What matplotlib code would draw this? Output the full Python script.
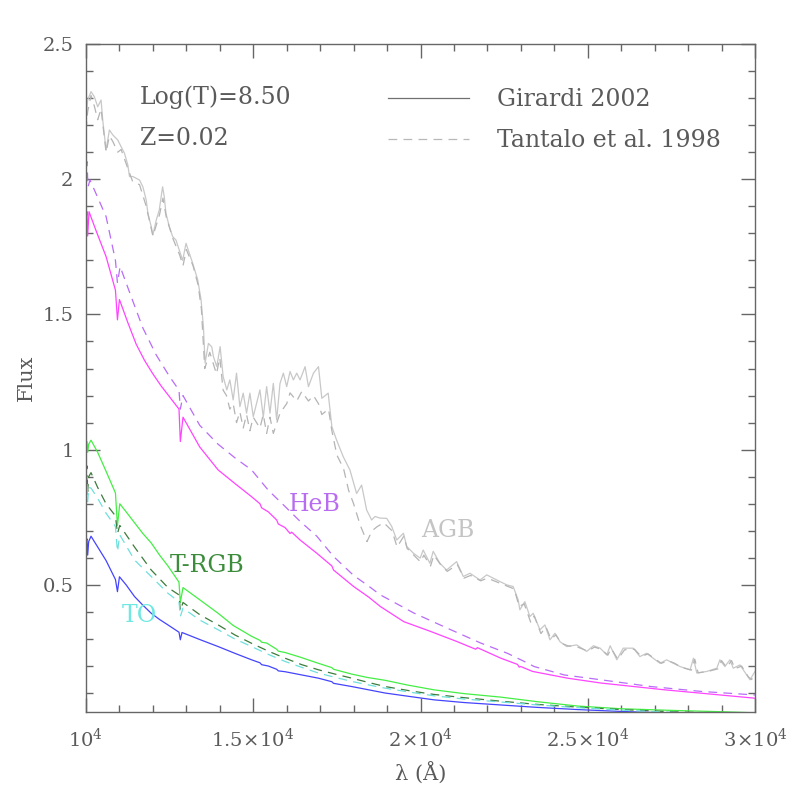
import matplotlib.pyplot as plt
from matplotlib.lines import Line2D
from matplotlib.ticker import MultipleLocator

plt.rcParams['font.family'] = ['DejaVu Serif']
plt.rcParams['mathtext.fontset'] = 'dejavuserif'

# spectra: (wavelength [A], flux)
agb_girardi = [
    (10000, 2.22), (10050, 2.293), (10150, 2.324), (10250, 2.305), (10350, 2.268),
    (10450, 2.293), (10500, 2.219), (10600, 2.108), (10700, 2.182), (10800, 2.164),
    (10950, 2.145), (11050, 2.12), (11150, 2.096), (11250, 2.053), (11300, 2.01),
    (11400, 2.01), (11600, 1.997), (11700, 1.972), (11800, 1.923), (11850, 1.874),
    (11950, 1.825), (12000, 1.794), (12100, 1.849), (12190, 1.886), (12290, 1.972),
    (12340, 1.935), (12390, 1.874), (12490, 1.825), (12590, 1.788), (12690, 1.775),
    (12790, 1.738), (12890, 1.70), (12990, 1.763), (13090, 1.726), (13190, 1.689),
    (13340, 1.628), (13440, 1.554), (13510, 1.455), (13560, 1.32), (13660, 1.393),
    (13760, 1.38), (13810, 1.344), (13910, 1.307), (14010, 1.381), (14100, 1.27),
    (14210, 1.221), (14300, 1.258), (14400, 1.184), (14500, 1.283), (14600, 1.159),
    (14700, 1.209), (14800, 1.135), (14900, 1.209), (15000, 1.122), (15200, 1.221),
    (15300, 1.12), (15400, 1.233), (15500, 1.135), (15600, 1.245), (15700, 1.11),
    (15800, 1.245), (15900, 1.283), (16000, 1.233), (16100, 1.289), (16200, 1.258),
    (16300, 1.283), (16400, 1.258), (16550, 1.307), (16650, 1.233), (16800, 1.283),
    (16950, 1.307), (17050, 1.19), (17240, 1.209), (17350, 1.085), (17490, 1.036),
    (17690, 0.974), (17890, 0.925), (18090, 0.838), (18240, 0.869), (18390, 0.777),
    (18540, 0.74), (18640, 0.753), (18790, 0.747), (18990, 0.746), (19140, 0.716),
    (19290, 0.666), (19490, 0.691), (19590, 0.642), (19790, 0.617), (19990, 0.599),
    (20080, 0.629), (20280, 0.58), (20380, 0.624), (20580, 0.58), (20780, 0.555),
    (21080, 0.586), (21280, 0.531), (21480, 0.543), (21780, 0.518), (21980, 0.537),
    (22380, 0.512), (22580, 0.50), (22770, 0.494), (22920, 0.445), (22970, 0.408),
    (23120, 0.438), (23270, 0.383), (23370, 0.395), (23570, 0.334), (23720, 0.352),
    (23870, 0.297), (24020, 0.321), (24170, 0.29), (24370, 0.272), (24670, 0.278),
    (24970, 0.254), (25170, 0.275), (25370, 0.266), (25570, 0.241), (25670, 0.275),
    (25870, 0.223), (26060, 0.266), (26360, 0.266), (26560, 0.235), (26760, 0.247),
    (27160, 0.21), (27360, 0.223), (27560, 0.21), (27760, 0.198), (28060, 0.186),
    (28160, 0.229), (28260, 0.174), (28560, 0.18), (28860, 0.192), (28950, 0.223),
    (29100, 0.198), (29250, 0.223), (29350, 0.192), (29550, 0.204), (29750, 0.167),
    (29850, 0.149), (30000, 0.18),
]
agb_tantalo = [
    (10000, 2.18), (10050, 2.25), (10150, 2.31), (10250, 2.27), (10350, 2.22),
    (10450, 2.26), (10600, 2.10), (10700, 2.16), (10800, 2.14), (10950, 2.10),
    (11050, 2.11), (11250, 2.04), (11400, 1.99), (11600, 1.98), (11800, 1.90),
    (12000, 1.79), (12100, 1.83), (12200, 1.87), (12300, 1.93), (12400, 1.86),
    (12600, 1.78), (12800, 1.72), (12900, 1.68), (13000, 1.74), (13200, 1.68),
    (13350, 1.61), (13450, 1.52), (13550, 1.30), (13700, 1.36), (13900, 1.28),
    (14000, 1.34), (14100, 1.22), (14200, 1.20), (14300, 1.15), (14400, 1.17),
    (14500, 1.10), (14600, 1.14), (14700, 1.08), (14800, 1.13), (14900, 1.07),
    (15000, 1.12), (15200, 1.08), (15300, 1.13), (15400, 1.06), (15500, 1.12),
    (15600, 1.06), (15800, 1.135), (16000, 1.17), (16100, 1.21), (16300, 1.18),
    (16450, 1.215), (16650, 1.18), (16800, 1.20), (16950, 1.17), (17050, 1.13),
    (17250, 1.15), (17350, 1.07), (17500, 0.98), (17700, 0.93), (17850, 0.85),
    (18000, 0.80), (18200, 0.72), (18400, 0.66), (18550, 0.70), (18700, 0.715),
    (18900, 0.73), (19150, 0.70), (19300, 0.64), (19500, 0.68), (19600, 0.635),
    (19800, 0.61), (20000, 0.585), (20100, 0.61), (20300, 0.57), (20400, 0.61),
    (20600, 0.575), (20800, 0.55), (21100, 0.575), (21300, 0.525), (21500, 0.535),
    (21800, 0.515), (22000, 0.525), (22400, 0.505), (22600, 0.495), (22800, 0.485),
    (22950, 0.42), (23100, 0.43), (23300, 0.36), (23400, 0.385), (23600, 0.32),
    (23750, 0.345), (23900, 0.30), (24050, 0.315), (24200, 0.285), (24400, 0.275),
    (24700, 0.27), (25000, 0.255), (25200, 0.27), (25400, 0.262), (25600, 0.24),
    (25700, 0.265), (25900, 0.225), (26100, 0.26), (26400, 0.262), (26600, 0.235),
    (26800, 0.245), (27200, 0.21), (27400, 0.22), (27600, 0.21), (27800, 0.195),
    (28100, 0.185), (28200, 0.225), (28300, 0.175), (28600, 0.18), (28900, 0.19),
    (29000, 0.22), (29150, 0.195), (29300, 0.22), (29400, 0.19), (29600, 0.20),
    (29800, 0.16), (29900, 0.15), (30000, 0.175),
]
heb_girardi = [
    (10000, 1.85), (10030, 1.88), (10050, 1.79), (10090, 1.88), (10300, 1.81),
    (10600, 1.714), (10880, 1.59), (10940, 1.48), (11000, 1.555), (11250, 1.47),
    (11500, 1.39), (11750, 1.33), (12000, 1.28), (12250, 1.235), (12500, 1.195),
    (12780, 1.15), (12820, 1.03), (12900, 1.12), (13400, 1.01), (13950, 0.925),
    (14450, 0.875), (14950, 0.826), (15200, 0.80), (15250, 0.785), (15450, 0.77),
    (15700, 0.74), (15750, 0.725), (15950, 0.712), (16100, 0.69), (16150, 0.695),
    (16400, 0.666), (16900, 0.617), (17350, 0.57), (17400, 0.555), (18000, 0.494),
    (18450, 0.455), (18800, 0.42), (19500, 0.364), (20300, 0.328), (21100, 0.29),
    (21650, 0.262), (21700, 0.268), (22400, 0.229), (22900, 0.206), (22950, 0.196),
    (23000, 0.198), (23350, 0.18), (24400, 0.155), (25400, 0.137), (27300, 0.112),
    (30000, 0.081),
]
heb_tantalo = [
    (10000, 2.05), (10030, 2.065), (10060, 1.972), (10120, 1.997), (10600, 1.862),
    (10880, 1.70), (10940, 1.616), (11020, 1.677), (11350, 1.566), (11700, 1.45),
    (12100, 1.35), (12500, 1.27), (12780, 1.22), (12820, 1.15), (12900, 1.20),
    (13400, 1.09), (13950, 1.02), (14450, 0.97), (14950, 0.925), (15450, 0.85),
    (15950, 0.79), (16400, 0.735), (16900, 0.68), (17400, 0.605), (18000, 0.535),
    (18400, 0.50), (18800, 0.463), (19800, 0.396), (20800, 0.34), (21800, 0.285),
    (22600, 0.247), (23100, 0.217), (23400, 0.198), (24300, 0.167), (25400, 0.149),
    (26900, 0.124), (28400, 0.106), (30000, 0.093),
]
trgb_girardi = [
    (10000, 1.00), (10030, 1.03), (10050, 0.99), (10080, 1.02), (10150, 1.035),
    (10350, 0.99), (10600, 0.92), (10880, 0.84), (10940, 0.72), (11010, 0.80),
    (11200, 0.77), (11450, 0.73), (11700, 0.69), (11950, 0.655), (12200, 0.61),
    (12450, 0.57), (12780, 0.51), (12820, 0.435), (12900, 0.49), (13400, 0.445),
    (13950, 0.395), (14400, 0.35), (14950, 0.31), (15200, 0.295), (15250, 0.288),
    (15400, 0.285), (15700, 0.262), (15750, 0.255), (15950, 0.25), (16400, 0.233),
    (16950, 0.21), (17350, 0.194), (17400, 0.188), (17950, 0.17), (18400, 0.158),
    (18950, 0.147), (19600, 0.13), (20400, 0.112), (21300, 0.098), (22400, 0.085),
    (23500, 0.068), (24700, 0.052), (26000, 0.042), (27500, 0.036), (29000, 0.031),
    (30000, 0.027),
]
trgb_tantalo = [
    (10000, 0.92), (10030, 0.94), (10050, 0.845), (10080, 0.90), (10150, 0.915),
    (10350, 0.86), (10600, 0.80), (10880, 0.755), (10940, 0.69), (11010, 0.72),
    (11450, 0.64), (11950, 0.555), (12450, 0.49), (12780, 0.463), (12820, 0.405),
    (12900, 0.435), (13400, 0.39), (13950, 0.352), (14450, 0.315), (14950, 0.284),
    (15450, 0.255), (15950, 0.229), (16450, 0.205), (16950, 0.186), (17450, 0.17),
    (17950, 0.155), (18450, 0.139), (18950, 0.124), (19700, 0.108), (20400, 0.095),
    (21300, 0.083), (22400, 0.07), (23500, 0.058), (24700, 0.048), (26000, 0.039),
    (27500, 0.031), (30000, 0.022),
]
to_girardi = [
    (10000, 0.66), (10030, 0.67), (10050, 0.61), (10080, 0.66), (10150, 0.68),
    (10350, 0.64), (10600, 0.59), (10880, 0.52), (10940, 0.475), (11000, 0.53),
    (11200, 0.50), (11450, 0.457), (11700, 0.425), (11950, 0.395), (12200, 0.372),
    (12450, 0.352), (12780, 0.325), (12820, 0.297), (12870, 0.324), (13400, 0.298),
    (13950, 0.272), (14450, 0.247), (14950, 0.223), (15200, 0.212), (15250, 0.205),
    (15450, 0.20), (15700, 0.188), (15750, 0.182), (15950, 0.179), (16450, 0.167),
    (16950, 0.155), (17350, 0.142), (17400, 0.136), (17950, 0.124), (18450, 0.112),
    (18950, 0.100), (19700, 0.087), (20400, 0.075), (21300, 0.065), (22400, 0.056),
    (23500, 0.047), (24700, 0.039), (26000, 0.032), (27500, 0.026), (30000, 0.018),
]
to_tantalo = [
    (10000, 0.88), (10030, 0.90), (10050, 0.808), (10080, 0.86), (10150, 0.858),
    (10350, 0.82), (10600, 0.765), (10880, 0.716), (10940, 0.623), (11010, 0.685),
    (11450, 0.592), (11950, 0.531), (12450, 0.469), (12780, 0.438), (12820, 0.383),
    (12900, 0.414), (13400, 0.37), (13950, 0.334), (14450, 0.30), (14950, 0.272),
    (15450, 0.243), (15950, 0.217), (16450, 0.195), (16950, 0.174), (17450, 0.158),
    (17950, 0.143), (18450, 0.130), (18950, 0.118), (19700, 0.103), (20400, 0.09),
    (21300, 0.078), (22400, 0.067), (23500, 0.056), (24700, 0.046), (26000, 0.037),
    (27500, 0.029), (30000, 0.02),
]

x_ticks = [10000, 15000, 20000, 25000, 30000]
x_ticklabels = [r'$10^{4}$', r'$1.5\!\times\!10^{4}$', r'$2\!\times\!10^{4}$',
                r'$2.5\!\times\!10^{4}$', r'$3\!\times\!10^{4}$']
y_ticks = [0.5, 1, 1.5, 2, 2.5]
y_ticklabels = ['0.5', '1', '1.5', '2', '2.5']

txt = '#5a5a5a'
dash = (0, (7, 5))

fig = plt.figure(figsize=(7.97, 7.97), dpi=100)
ax = fig.add_axes([86 / 797, 85 / 797, 669 / 797, 668 / 797])


def draw(pts, color, ls='-'):
    wl, fl = zip(*pts)
    ax.plot(wl, fl, color=color, lw=0.9, ls=ls)


draw(agb_girardi, '#c8c8c8')
draw(agb_tantalo, '#b4b4b4', dash)
draw(heb_girardi, '#ff44ff')
draw(heb_tantalo, '#b86cf8', dash)
draw(trgb_girardi, '#44ee44')
draw(trgb_tantalo, '#3c7c3c', dash)
draw(to_girardi, '#4444ff')
draw(to_tantalo, '#6ee0dc', dash)

ax.set_xlim(10000, 30000)
ax.set_ylim(0.03, 2.5)
ax.set_xticks(x_ticks)
ax.set_xticklabels(x_ticklabels)
ax.set_yticks(y_ticks)
ax.set_yticklabels(y_ticklabels)
ax.xaxis.set_minor_locator(MultipleLocator(1000))
ax.yaxis.set_minor_locator(MultipleLocator(0.1))
ax.tick_params(which='both', direction='in', top=True, right=True,
               color='#666666', width=1, labelcolor=txt, labelsize=14)
ax.tick_params(which='major', length=10)
ax.tick_params(which='minor', length=5)
ax.tick_params(axis='x', pad=11)
ax.tick_params(axis='y', pad=9)
for sp in ax.spines.values():
    sp.set_color('#666666')
    sp.set_linewidth(1)

ax.set_xlabel('λ (Å)', fontsize=15, color=txt, labelpad=8)
ax.set_ylabel('Flux', fontsize=15, color=txt, labelpad=5)

# labels of the sequences
ax.text(11614, 2.304, 'Log(T)=8.50', fontsize=17, color=txt, va='center')
ax.text(11614, 2.149, 'Z=0.02', fontsize=17, color=txt, va='center')
ax.text(16069, 0.796, 'HeB', fontsize=17, color='#b86cf0', va='center')
ax.text(20015, 0.70, 'AGB', fontsize=17, color='#c4c4c4', va='center')
ax.text(12511, 0.570, 'T-RGB', fontsize=17, color='#3c8c3c', va='center')
ax.text(11076, 0.385, 'TO', fontsize=17, color='#6ee8e0', va='center')

handles = [Line2D([], [], color='#707070', lw=0.9),
           Line2D([], [], color='#b8b8b8', lw=0.9, ls=dash)]
ax.legend(handles, ['Girardi 2002', 'Tantalo et al. 1998'],
          loc='upper left', bbox_to_anchor=(0.4514, 0.934), frameon=False,
          fontsize=17, labelcolor=txt, handlelength=3.45, handletextpad=1.15,
          labelspacing=0.75, borderpad=0, borderaxespad=0)

plt.savefig('out.png', dpi=100)
